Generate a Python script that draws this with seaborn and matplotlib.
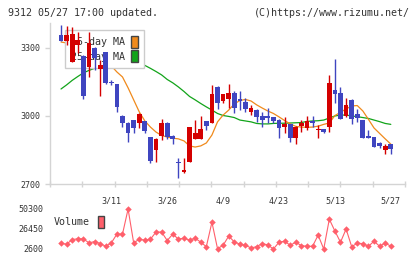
import numpy as np
import pandas as pd
import seaborn as sns
import matplotlib
matplotlib.use("Agg")
import matplotlib.pyplot as plt
from matplotlib.patches import Patch

## Data
dates = ['3/11', '3/26', '4/9', '4/23', '5/13', '5/27']
date_pos = [9, 19, 29, 39, 49, 59]

opens = [3356, 3332, 3240, 3315, 3265, 3218, 3301, 3206, 3282, 3151,
         3141, 3000, 2969, 2982, 2970, 2978, 2907, 2850, 2912, 2969,
         2912, 2798, 2754, 2798, 2897, 2897, 2977, 2970, 3127, 3068,
         3075, 3100, 3075, 3063, 3016, 3026, 3000, 3000, 2994, 2982,
         2953, 2965, 2904, 2956, 2946, 2978, 2938, 2943, 2953, 3115,
         3101, 3001, 3071, 3009, 2982, 2912, 2906, 2880, 2850, 2876]
highs = [3403, 3395, 3394, 3371, 3268, 3372, 3303, 3247, 3284, 3158,
         3141, 3004, 2972, 2984, 3011, 2980, 2907, 2904, 2985, 2972,
         2915, 2815, 2815, 2950, 2982, 3000, 2978, 3137, 3130, 3097,
         3141, 3112, 3110, 3078, 3049, 3030, 3019, 3034, 2997, 2987,
         2994, 2966, 2955, 2982, 3000, 3000, 2960, 2943, 3181, 3251,
         3127, 3078, 3075, 3031, 2982, 2938, 2906, 2887, 2876, 2876]
lows = [3332, 3313, 3240, 3278, 3075, 3173, 3203, 3090, 3140, 3137,
        3019, 2953, 2887, 2926, 2946, 2926, 2794, 2798, 2894, 2899,
        2876, 2726, 2749, 2798, 2897, 2897, 2940, 2970, 3030, 3059,
        3035, 3015, 3026, 3019, 3004, 2975, 2950, 2970, 2968, 2904,
        2926, 2887, 2876, 2931, 2938, 2950, 2901, 2924, 2931, 3059,
        2985, 2997, 2965, 2975, 2904, 2904, 2865, 2860, 2831, 2831]
closes = [3332, 3356, 3362, 3335, 3090, 3321, 3255, 3225, 3147, 3144,
          3041, 2968, 2927, 2949, 3009, 2934, 2803, 2899, 2969, 2909,
          2899, 2794, 2762, 2950, 2924, 2943, 2956, 3097, 3059, 3097,
          3100, 3037, 3068, 3032, 3035, 2997, 2982, 2990, 2978, 2948,
          2965, 2904, 2953, 2970, 2979, 2970, 2943, 2931, 3147, 3097,
          2988, 3049, 2985, 2993, 2904, 2904, 2865, 2869, 2868, 2854]

ma5 = [3326, 3322, 3313, 3304, 3296, 3291, 3278, 3256, 3234, 3221,
       3194, 3172, 3124, 3071, 3018, 2978, 2951, 2929, 2914, 2907,
       2902, 2899, 2890, 2868, 2863, 2868, 2881, 2916, 2974, 3004,
       3026, 3053, 3068, 3073, 3066, 3049, 3035, 3022, 3011, 2996,
       2980, 2965, 2954, 2951, 2950, 2951, 2955, 2963, 2969, 3002,
       3016, 3031, 3044, 3046, 3022, 2985, 2947, 2923, 2899, 2876]
ma25 = [3119, 3137, 3157, 3174, 3190, 3201, 3210, 3216, 3223, 3227,
        3232, 3234, 3234, 3232, 3229, 3223, 3210, 3196, 3181, 3161,
        3146, 3128, 3108, 3086, 3071, 3055, 3040, 3026, 3011, 3002,
        2998, 2993, 2982, 2978, 2974, 2967, 2965, 2965, 2967, 2968,
        2968, 2969, 2970, 2971, 2976, 2978, 2979, 2982, 2991, 3000,
        3004, 3004, 3000, 2997, 2993, 2989, 2982, 2975, 2967, 2963]

volume = [9470, 8260, 13910, 14720, 14720, 9870, 11490, 9060, 5830, 9870,
          20380, 20380, 50270, 9870, 14320, 13100, 14320, 22800, 22800, 12700,
          20380, 14320, 15530, 13100, 15530, 10680, 5430, 34520, 3000, 7040,
          17950, 11080, 8260, 7040, 3810, 5430, 9060, 7450, 2600, 10680,
          11890, 7040, 10680, 6640, 5830, 5830, 19160, 2600, 38150, 24010,
          10680, 26440, 5430, 9470, 9060, 5830, 11890, 5830, 9870, 5830]

# colours
red = '#d40000'
blue = '#3f45c0'
orange = '#f08a1c'
green = '#12a41a'
vol_color = '#ff5f6b'
grid_gray = '#d4d4d4'
text_gray = '#333333'

sns.set_style("white")
plt.rcParams['font.family'] = ['DejaVu Sans Mono']

df = pd.DataFrame({'idx': np.arange(len(closes)), 'open': opens, 'high': highs,
                   'low': lows, 'close': closes, 'ma5': ma5, 'ma25': ma25,
                   'volume': volume})
df['up'] = df['close'] >= df['open']
df['color'] = np.where(df['up'], red, blue)
df['body_bottom'] = df[['open', 'close']].min(axis=1)
df['body_height'] = (df['close'] - df['open']).abs().clip(lower=4)

fig = plt.figure(figsize=(4.2, 2.59), dpi=100)
ax = fig.add_axes([50 / 420, 1 - 184 / 259, 355 / 420, 161 / 259])
axv = fig.add_axes([50 / 420, 1 - 252 / 259, 355 / 420, 48 / 259])

xlim = (-1.97, 61.54)

## Price panel
sns.lineplot(data=df, x='idx', y='ma25', color=green, lw=0.9, ax=ax, zorder=2)
sns.lineplot(data=df, x='idx', y='ma5', color=orange, lw=0.9, ax=ax, zorder=2)
ax.vlines(df['idx'], df['low'], df['high'], colors=df['color'], linewidth=1, zorder=3)
ax.bar(df['idx'], df['body_height'], bottom=df['body_bottom'], width=0.85,
       color=df['color'], linewidth=0, zorder=4)

leg = ax.legend([Patch(facecolor=orange, edgecolor='#444444'),
                 Patch(facecolor=green, edgecolor='#444444')],
                ['5-day MA', '25-day MA'], loc='upper left',
                bbox_to_anchor=(0.042, 0.957), borderaxespad=0,
                markerfirst=False, fancybox=False, framealpha=1,
                edgecolor='#cccccc', fontsize=7.2, handlelength=0.7,
                handleheight=1.5, labelspacing=0.2, borderpad=0.6,
                handletextpad=0.6)
leg.set_zorder(2.5)
for t in leg.get_texts():
    t.set_color(text_gray)

ax.set_xlim(*xlim)
ax.set_ylim(2700, 3410)
ax.set_yticks([2700, 3000, 3300])
ax.set_xticks(date_pos)
ax.set_xticklabels(dates)
ax.set_xticks(np.linspace(xlim[0], xlim[1], 12), minor=True)
ax.set_xlabel('')
ax.set_ylabel('')
ax.tick_params(axis='y', length=3.6, width=1, color=grid_gray, pad=3.6,
               labelsize=6, labelcolor=text_gray, left=True)
ax.tick_params(axis='x', which='major', length=0, pad=9, labelsize=6,
               labelcolor=text_gray)
ax.tick_params(axis='x', which='minor', length=5, width=1, direction='inout',
               color=grid_gray, bottom=True)
for side in ['top', 'right']:
    ax.spines[side].set_visible(False)
for side in ['left', 'bottom']:
    ax.spines[side].set_color(grid_gray)
    ax.spines[side].set_linewidth(1)

## Volume panel
sns.lineplot(data=df, x='idx', y='volume', color=vol_color, lw=0.8, marker='D',
             markersize=3.3, markeredgewidth=0, ax=axv)
axv.set_xlim(*xlim)
axv.set_ylim(-980, 56260)
axv.set_yticks([2600, 26450, 50300])
axv.set_xticks([])
axv.set_xlabel('')
axv.set_ylabel('')
axv.tick_params(axis='y', length=0, pad=4.5, labelsize=6, labelcolor=text_gray)
for side in axv.spines:
    axv.spines[side].set_visible(False)
vleg = axv.legend([Patch(facecolor=vol_color, edgecolor='#444444')], ['Volume'],
                  loc='upper left', bbox_to_anchor=(0.0, 0.84), borderaxespad=0,
                  frameon=False, markerfirst=False, fontsize=7.2,
                  handlelength=0.6, handleheight=1.5, handletextpad=0.8)
for t in vleg.get_texts():
    t.set_color(text_gray)

## Header
fig.text(8 / 420, 1 - 12.5 / 259, '9312 05/27 17:00 updated.', fontsize=7.2,
         color=text_gray, va='center', ha='left')
fig.text(410 / 420, 1 - 12.5 / 259, '(C)https://www.rizumu.net/', fontsize=7.2,
         color=text_gray, va='center', ha='right')

fig.savefig('out.png', dpi=100)
